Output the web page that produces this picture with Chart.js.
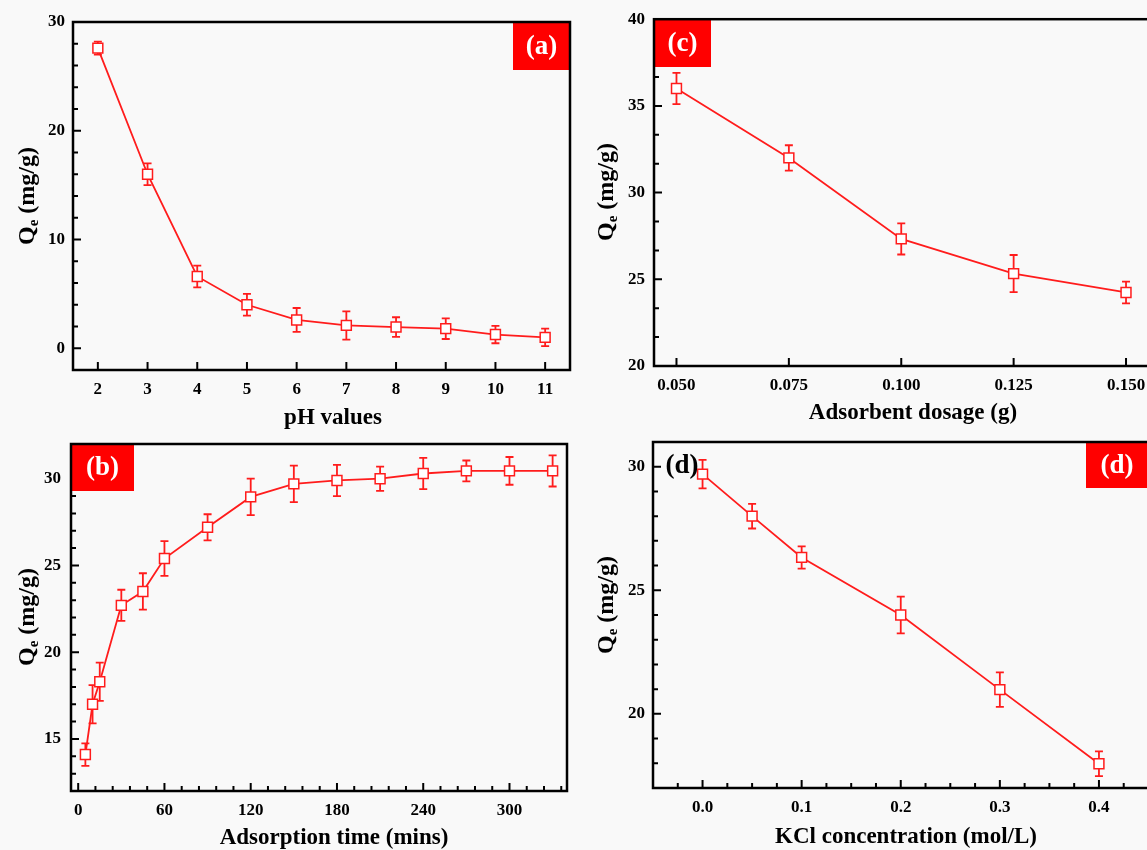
<!DOCTYPE html>
<html>
<head>
<meta charset="utf-8">
<script src="https://cdn.jsdelivr.net/npm/chart.js@4.4.1/dist/chart.umd.min.js"></script>
<style>
  html, body { margin: 0; padding: 0; width: 1147px; height: 850px; overflow: hidden; background: #f9f9f9; }
  canvas { position: absolute; left: 0; top: 0; }
</style>
</head>
<body>
<canvas id="chartA" width="1160" height="850"></canvas>
<canvas id="chartB" width="1160" height="850"></canvas>
<canvas id="chartC" width="1160" height="850"></canvas>
<canvas id="chartD" width="1160" height="850"></canvas>
<script>
// (a) effect of pH
const phValues = [2, 3, 4, 5, 6, 7, 8, 9, 10, 11];
const qePh = [27.6, 16.0, 6.6, 4.0, 2.6, 2.1, 1.95, 1.8, 1.26, 1.0];
const errPh = [0.6, 1.0, 1.0, 1.0, 1.1, 1.3, 0.9, 0.95, 0.8, 0.8];

// (b) effect of contact time
const timeMins = [5, 10, 15, 30, 45, 60, 90, 120, 150, 180, 210, 240, 270, 300, 330];
const qeTime = [14.1, 17.0, 18.3, 22.7, 23.5, 25.4, 27.2, 28.95, 29.7, 29.9, 30.0, 30.3, 30.45, 30.45, 30.45];
const errTime = [0.65, 1.1, 1.1, 0.9, 1.05, 1.0, 0.75, 1.05, 1.05, 0.9, 0.7, 0.9, 0.6, 0.8, 0.9];

// (c) effect of adsorbent dosage
const dosage = [0.050, 0.075, 0.100, 0.125, 0.150];
const qeDosage = [36.0, 32.0, 27.33, 25.33, 24.24];
const errDosage = [0.9, 0.73, 0.9, 1.07, 0.63];

// (d) effect of KCl concentration
const kclConc = [0.0, 0.05, 0.1, 0.2, 0.3, 0.4];
const qeKcl = [29.7, 28.0, 26.33, 24.0, 20.98, 17.98];
const errKcl = [0.58, 0.5, 0.45, 0.74, 0.7, 0.5];

// tick labels
const phTicks = [2, 3, 4, 5, 6, 7, 8, 9, 10, 11];
const qeTicksA = [0, 10, 20, 30];
const timeTicks = [0, 60, 120, 180, 240, 300];
const qeTicksB = [15, 20, 25, 30];
const dosageTicks = [0.050, 0.075, 0.100, 0.125, 0.150];
const qeTicksC = [20, 25, 30, 35, 40];
const kclTicks = [0.0, 0.1, 0.2, 0.3, 0.4];
const qeTicksD = [20, 25, 30];

const RED = '#ff1c1c';
const FONT = "'Liberation Serif', 'Times New Roman', serif";
Chart.defaults.font.family = FONT;
Chart.defaults.font.weight = 'bold';
Chart.defaults.color = '#000';

const panels = [
  { id: 'chartA', xs: phValues, ys: qePh, errs: errPh, xTicks: phTicks, yTicks: qeTicksA,
    area: { l: 73, t: 22, r: 570, b: 370 }, xMin: 1.5, xMax: 11.5, yMin: -2, yMax: 30,
    xMinor: 1, yMinor: 5, dec: 0, yPad: 8,
    tag: { text: '(a)', x: 513, y: 22, w: 57, h: 48 },
    xTitle: { text: 'pH values', x: 333, y: 418 }, yTitle: { x: 26, y: 196 } },
  { id: 'chartB', xs: timeMins, ys: qeTime, errs: errTime, xTicks: timeTicks, yTicks: qeTicksB,
    area: { l: 71, t: 444, r: 567, b: 791 }, xMin: -5, xMax: 340, yMin: 12, yMax: 32,
    xMinor: 5, yMinor: 5, dec: 0, yPad: 10,
    tag: { text: '(b)', x: 71, y: 444, w: 63, h: 47 },
    xTitle: { text: 'Adsorption time (mins)', x: 334, y: 838 }, yTitle: { x: 26, y: 617 } },
  { id: 'chartC', xs: dosage, ys: qeDosage, errs: errDosage, xTicks: dosageTicks, yTicks: qeTicksC,
    area: { l: 654, t: 19, r: 1148.5, b: 366 }, xMin: 0.045, xMax: 0.155, yMin: 20, yMax: 40,
    xMinor: 1, yMinor: 3, dec: 3, yPad: 9,
    tag: { text: '(c)', x: 654, y: 19, w: 57, h: 48 },
    xTitle: { text: 'Adsorbent dosage (g)', x: 913, y: 413 }, yTitle: { x: 605, y: 192 } },
  { id: 'chartD', xs: kclConc, ys: qeKcl, errs: errKcl, xTicks: kclTicks, yTicks: qeTicksD,
    area: { l: 653, t: 442, r: 1148.5, b: 788 }, xMin: -0.05, xMax: 0.45, yMin: 17, yMax: 31,
    xMinor: 4, yMinor: 5, dec: 1, yPad: 8,
    tag: { text: '(d)', x: 1086, y: 442, w: 62, h: 46 },
    note: { text: '(d)', x: 682, y: 466 },
    xTitle: { text: 'KCl concentration (mol/L)', x: 906, y: 837 }, yTitle: { x: 605, y: 605 } }
];

function minorValues(majors, n, min, max) {
  if (n <= 1) return [];
  const step = (majors[1] - majors[0]) / n;
  const out = [];
  const eps = step * 1e-3;
  for (let v = majors[0] - step; v > min + eps; v -= step) out.push(v);
  for (let v = majors[0] + step; v < max - eps; v += step) {
    if (!majors.some(m => Math.abs(m - v) < eps)) out.push(v);
  }
  return out;
}

function makeDecor(p) {
  return {
    id: 'decor' + p.id,
    beforeDatasetsDraw(chart) {
      const { ctx, scales: { x, y } } = chart;
      ctx.save();
      ctx.strokeStyle = RED;
      ctx.lineWidth = 1.8;
      p.xs.forEach((xv, i) => {
        const px = x.getPixelForValue(xv);
        const top = y.getPixelForValue(p.ys[i] + p.errs[i]);
        const bot = y.getPixelForValue(p.ys[i] - p.errs[i]);
        ctx.beginPath();
        ctx.moveTo(px, top); ctx.lineTo(px, bot);
        ctx.moveTo(px - 4, top); ctx.lineTo(px + 4, top);
        ctx.moveTo(px - 4, bot); ctx.lineTo(px + 4, bot);
        ctx.stroke();
      });
      ctx.restore();
    },
    afterDatasetsDraw(chart) {
      const { ctx, chartArea: a, scales: { x, y } } = chart;
      ctx.save();
      // inward ticks
      ctx.strokeStyle = '#000';
      ctx.lineWidth = 2;
      ctx.beginPath();
      p.xTicks.forEach(v => { const px = x.getPixelForValue(v); ctx.moveTo(px, a.bottom); ctx.lineTo(px, a.bottom - 8); });
      minorValues(p.xTicks, p.xMinor, p.xMin, p.xMax).forEach(v => { const px = x.getPixelForValue(v); ctx.moveTo(px, a.bottom); ctx.lineTo(px, a.bottom - 5); });
      p.yTicks.forEach(v => { const py = y.getPixelForValue(v); ctx.moveTo(a.left, py); ctx.lineTo(a.left + 8, py); });
      minorValues(p.yTicks, p.yMinor, p.yMin, p.yMax).forEach(v => { const py = y.getPixelForValue(v); ctx.moveTo(a.left, py); ctx.lineTo(a.left + 5, py); });
      ctx.stroke();

      // red panel tag
      ctx.fillStyle = '#ff0000';
      ctx.fillRect(p.tag.x, p.tag.y, p.tag.w, p.tag.h);
      ctx.fillStyle = '#fff';
      ctx.font = `bold 27px ${FONT}`;
      ctx.textAlign = 'center';
      ctx.textBaseline = 'middle';
      ctx.fillText(p.tag.text, p.tag.x + p.tag.w / 2, p.tag.y + p.tag.h / 2 + 1);
      if (p.note) {
        ctx.fillStyle = '#000';
        ctx.fillText(p.note.text, p.note.x, p.note.y);
      }

      // frame
      ctx.strokeStyle = '#000';
      ctx.lineWidth = 2.5;
      ctx.strokeRect(a.left, a.top, a.right - a.left, a.bottom - a.top);

      // x title
      ctx.fillStyle = '#000';
      ctx.font = `bold 23px ${FONT}`;
      ctx.fillText(p.xTitle.text, p.xTitle.x, p.xTitle.y);

      // y title with subscript
      ctx.translate(p.yTitle.x, p.yTitle.y);
      ctx.rotate(-Math.PI / 2);
      ctx.textAlign = 'left';
      ctx.textBaseline = 'alphabetic';
      const big = `bold 24px ${FONT}`, small = `bold 15px ${FONT}`;
      ctx.font = big; const wQ = ctx.measureText('Q').width; const wR = ctx.measureText(' (mg/g)').width;
      ctx.font = small; const wE = ctx.measureText('e').width;
      let sx = -(wQ + wE + wR) / 2;
      ctx.font = big; ctx.fillText('Q', sx, 8); sx += wQ;
      ctx.font = small; ctx.fillText('e', sx, 12); sx += wE;
      ctx.font = big; ctx.fillText(' (mg/g)', sx, 8);
      ctx.restore();
    }
  };
}

panels.forEach(p => {
  const yW = 60, xH = 40;
  new Chart(document.getElementById(p.id), {
    type: 'line',
    data: {
      datasets: [{
        data: p.xs.map((xv, i) => ({ x: xv, y: p.ys[i] })),
        borderColor: RED,
        borderWidth: 1.8,
        pointStyle: 'rect',
        pointRadius: 7,
        pointBorderWidth: 1.5,
        pointBorderColor: RED,
        pointBackgroundColor: '#fff',
        tension: 0,
        clip: false
      }]
    },
    options: {
      responsive: false,
      animation: false,
      events: [],
      layout: { padding: { left: p.area.l - yW, top: p.area.t, right: 1160 - p.area.r, bottom: 850 - p.area.b - xH } },
      plugins: { legend: { display: false }, tooltip: { enabled: false } },
      scales: {
        x: {
          type: 'linear', min: p.xMin, max: p.xMax,
          grid: { display: false, drawTicks: false }, border: { display: false },
          afterFit: s => { s.height = xH; },
          afterBuildTicks: s => { s.ticks = p.xTicks.map(v => ({ value: v })); },
          ticks: { padding: 9, font: { size: 17, weight: 'bold' }, maxRotation: 0, autoSkip: false,
                   callback: v => Number(v).toFixed(p.dec) }
        },
        y: {
          type: 'linear', min: p.yMin, max: p.yMax,
          grid: { display: false, drawTicks: false }, border: { display: false },
          afterFit: s => { s.width = yW; },
          afterBuildTicks: s => { s.ticks = p.yTicks.map(v => ({ value: v })); },
          ticks: { padding: p.yPad, font: { size: 17, weight: 'bold' }, autoSkip: false }
        }
      }
    },
    plugins: [makeDecor(p)]
  });
});
</script>
</body>
</html>
